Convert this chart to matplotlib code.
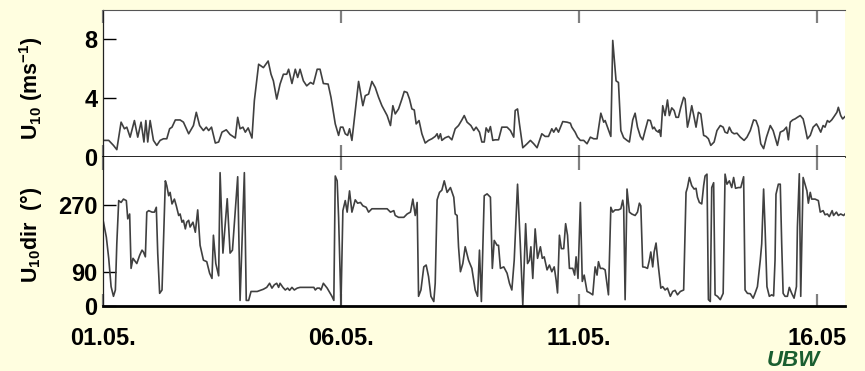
import matplotlib
matplotlib.use("Agg")
import matplotlib.pyplot as plt

# ===================== DATA =====================
# time in days after 01.05. 00:00
speed_day = [
    0.01, 0.12, 0.22, 0.29, 0.38, 0.45, 0.50, 0.57, 0.66, 0.73, 0.80, 0.86, 0.90, 0.94, 0.99,
    1.06, 1.13, 1.20, 1.27, 1.34, 1.40, 1.45, 1.52, 1.62, 1.69, 1.80, 1.90, 1.96,
    2.03, 2.11, 2.17, 2.22, 2.28, 2.36, 2.43, 2.50, 2.59, 2.67, 2.78, 2.83, 2.88, 2.94, 2.99,
    3.05, 3.13, 3.18, 3.27, 3.37, 3.47, 3.53, 3.58, 3.65, 3.72, 3.79, 3.86, 3.90, 3.97,
    4.04, 4.09, 4.14, 4.21, 4.28, 4.36, 4.42, 4.50, 4.56, 4.63, 4.73, 4.79, 4.88, 4.95,
    4.99, 5.04, 5.09, 5.14, 5.18, 5.23, 5.30, 5.37, 5.46, 5.51, 5.58, 5.65, 5.72, 5.79, 5.86, 5.97,
    6.04, 6.09, 6.14, 6.21, 6.28, 6.33, 6.39, 6.44, 6.49, 6.54, 6.58, 6.64, 6.70, 6.77, 6.84, 6.91, 6.98,
    7.02, 7.05, 7.09, 7.12, 7.19, 7.26, 7.33, 7.40, 7.47, 7.54, 7.59, 7.65, 7.73, 7.79, 7.84, 7.91, 7.96,
    8.01, 8.05, 8.10, 8.14, 8.19, 8.24, 8.31, 8.38, 8.49, 8.56, 8.63, 8.66, 8.71, 8.75, 8.82, 8.91, 8.98,
    9.05, 9.12, 9.22, 9.29, 9.36, 9.43, 9.47, 9.52, 9.57, 9.66, 9.75, 9.82, 9.85, 9.92, 9.97,
    10.03, 10.10, 10.17, 10.24, 10.31, 10.38, 10.46, 10.52, 10.55, 10.60, 10.67, 10.71, 10.78, 10.83,
    10.88, 10.94, 11.01, 11.06, 11.13, 11.18, 11.23, 11.29, 11.34, 11.39, 11.45, 11.50, 11.55, 11.58,
    11.62, 11.67, 11.69, 11.72, 11.76, 11.81, 11.86, 11.90, 11.95, 12.00, 12.04, 12.09, 12.14, 12.20,
    12.23, 12.28, 12.32, 12.37, 12.42, 12.46, 12.51, 12.56, 12.62, 12.67, 12.72, 12.77, 12.84, 12.90,
    12.97, 13.03, 13.07, 13.12, 13.16, 13.21, 13.26, 13.32, 13.39, 13.47, 13.53, 13.60, 13.67, 13.72,
    13.77, 13.82, 13.88, 13.94, 14.02, 14.08, 14.12, 14.17, 14.23, 14.30, 14.36, 14.40, 14.44, 14.49,
    14.54, 14.59, 14.65, 14.71, 14.75, 14.80, 14.86, 14.92, 14.99, 15.03, 15.08, 15.13, 15.17, 15.22,
    15.26, 15.31, 15.36, 15.42, 15.45, 15.50, 15.54, 15.59,
]
speed = [
    1.13, 1.13, 0.79, 0.50, 2.37, 1.92, 2.03, 1.35, 2.48, 1.35, 2.37, 1.02, 2.48, 1.02, 2.48,
    1.13, 0.79, 1.13, 1.24, 1.24, 1.92, 2.03, 2.52, 2.52, 2.37, 1.58, 2.14, 3.04,
    2.14, 1.80, 2.03, 1.80, 2.03, 0.95, 1.02, 1.69, 1.85, 1.53, 1.29, 2.70, 1.92, 2.03, 1.69,
    1.98, 1.29, 3.83, 6.31, 6.08, 6.53, 5.63, 5.18, 3.94, 4.96, 5.63, 5.63, 5.97, 5.00,
    5.97, 5.41, 5.97, 5.18, 4.84, 5.07, 4.96, 5.97, 5.97, 5.00, 4.96, 4.06, 2.25, 1.47,
    2.03, 2.03, 1.58, 1.47, 1.92, 1.13, 3.16, 5.14, 3.49, 4.17, 4.28, 5.14, 4.73, 4.06, 3.49, 2.82,
    2.14, 3.49, 2.93, 3.27, 3.94, 4.46, 4.39, 3.94, 3.27, 3.20, 2.25, 2.48, 1.58, 0.95, 1.13, 1.24, 1.40,
    1.58, 1.24, 1.58, 1.13, 1.31, 1.40, 1.17, 1.92, 2.14, 2.52, 2.82, 2.37, 2.14, 1.80, 2.03, 1.69, 1.02,
    1.02, 1.98, 1.69, 2.07, 1.13, 1.17, 1.17, 2.03, 2.03, 1.80, 1.35, 3.16, 3.27, 2.25, 0.63, 0.90, 1.13,
    0.90, 0.63, 1.58, 1.40, 1.40, 1.92, 1.69, 1.98, 1.69, 2.41, 2.37, 2.30, 2.03, 1.69, 1.35,
    1.13, 1.13, 0.90, 1.35, 1.24, 1.24, 2.98, 2.37, 2.48, 2.03, 1.40, 7.93, 5.18, 5.07,
    1.80, 1.31, 1.13, 1.02, 2.52, 2.98, 2.03, 1.40, 1.17, 1.80, 2.52, 2.48, 1.92, 2.03,
    1.80, 1.69, 1.85, 1.40, 3.49, 2.82, 3.88, 2.82, 3.34, 3.16, 2.70, 2.70, 3.38, 4.06,
    3.94, 2.03, 2.59, 3.49, 2.70, 2.03, 3.04, 2.93, 1.47, 1.40, 1.24, 0.79, 1.02, 1.80,
    2.14, 2.03, 1.69, 1.62, 2.03, 1.69, 1.58, 1.62, 1.35, 1.13, 1.35, 1.80, 2.52, 2.48,
    2.03, 0.90, 0.57, 1.35, 2.14, 1.80, 1.35, 0.79, 1.69, 1.80, 2.03, 1.17, 2.37, 2.52,
    2.59, 2.70, 2.82, 2.59, 2.03, 1.24, 1.47, 2.03, 2.25, 2.03, 1.69, 2.14, 2.03, 2.48,
    2.37, 2.52, 2.75, 3.04, 3.38, 2.82, 2.59, 2.75,
]

dir_day = [
    0.01, 0.07, 0.12, 0.17, 0.22, 0.26, 0.29, 0.33, 0.38, 0.43, 0.49, 0.52, 0.56, 0.59, 0.63, 0.68,
    0.71, 0.77, 0.82, 0.85, 0.89, 0.92, 0.96, 1.03, 1.08, 1.12, 1.15, 1.19, 1.24, 1.31, 1.34, 1.38,
    1.41, 1.45, 1.50, 1.54, 1.59, 1.62, 1.66, 1.69, 1.73, 1.76, 1.80, 1.83, 1.89, 1.94, 1.99,
    2.04, 2.11, 2.18, 2.24, 2.29, 2.32, 2.37, 2.43, 2.46, 2.52, 2.61, 2.67, 2.72, 2.83, 2.88, 2.97,
    3.01, 3.06, 3.11, 3.24, 3.37, 3.44, 3.50, 3.55, 3.60, 3.65, 3.69, 3.72, 3.78, 3.83, 3.88, 3.92,
    3.97, 4.02, 4.08, 4.14, 4.28, 4.43, 4.46, 4.50, 4.55, 4.58, 4.63, 4.71, 4.81, 4.85, 4.88, 4.92,
    4.95, 5.00, 5.04, 5.09, 5.13, 5.18, 5.23, 5.30, 5.35, 5.41, 5.46, 5.53, 5.58, 5.65, 5.76, 5.97,
    6.04, 6.11, 6.14, 6.21, 6.32, 6.39, 6.46, 6.51, 6.56, 6.60, 6.63, 6.68, 6.74, 6.79, 6.84, 6.89,
    6.95, 6.98, 7.02, 7.07, 7.12, 7.17, 7.23, 7.30, 7.37, 7.40, 7.44, 7.47, 7.51, 7.56, 7.61, 7.68,
    7.75, 7.82, 7.87, 7.91, 7.95, 8.01, 8.07, 8.14, 8.18, 8.22, 8.28, 8.31, 8.35, 8.42, 8.49, 8.54,
    8.59, 8.64, 8.71, 8.77, 8.82, 8.88, 8.92, 8.96, 8.99, 9.03, 9.08, 9.13, 9.19, 9.23, 9.27, 9.33,
    9.38, 9.43, 9.48, 9.52, 9.55, 9.59, 9.63, 9.68, 9.72, 9.76, 9.80, 9.87, 9.91, 9.94, 9.98,
    10.03, 10.07, 10.11, 10.17, 10.22, 10.29, 10.34, 10.38, 10.41, 10.45, 10.50, 10.55, 10.62,
    10.67, 10.71, 10.76, 10.83, 10.88, 10.92, 10.94, 10.97, 11.01, 11.06, 11.11, 11.18, 11.23,
    11.27, 11.30, 11.34, 11.39, 11.44, 11.48, 11.51, 11.55, 11.58, 11.62, 11.67, 11.72, 11.76,
    11.81, 11.86, 11.92, 11.97, 12.02, 12.07, 12.13, 12.20, 12.25, 12.28, 12.32, 12.37, 12.42,
    12.46, 12.49, 12.53, 12.58, 12.62, 12.65, 12.69, 12.72, 12.76, 12.79, 12.83, 12.86, 12.91,
    12.97, 13.03, 13.07, 13.11, 13.16, 13.21, 13.25, 13.29, 13.35, 13.40, 13.46, 13.49, 13.54,
    13.60, 13.66, 13.70, 13.75, 13.81, 13.84, 13.88, 13.91, 13.95, 14.00, 14.05, 14.09, 14.12,
    14.14, 14.19, 14.23, 14.26, 14.29, 14.33, 14.38, 14.42, 14.47, 14.52, 14.57, 14.59, 14.63,
    14.66, 14.71, 14.75, 14.79, 14.82, 14.86, 14.89, 14.96, 15.03, 15.07, 15.13, 15.17, 15.22,
    15.26, 15.32, 15.35, 15.41, 15.45, 15.50, 15.56, 15.59,
]
direction = [
    225, 185, 128, 52, 26, 43, 167, 283, 278, 287, 283, 234, 247, 101, 128, 119,
    114, 136, 150, 145, 132, 252, 256, 252, 252, 265, 141, 34, 43, 336, 323, 296,
    305, 274, 287, 269, 243, 247, 225, 230, 207, 225, 230, 212, 225, 198, 258,
    163, 123, 119, 88, 74, 190, 114, 81, 358, 142, 288, 142, 150, 347, 15, 358,
    15, 15, 39, 39, 45, 50, 61, 48, 57, 61, 50, 61, 50, 43, 48, 42,
    50, 43, 48, 50, 50, 50, 43, 48, 48, 43, 61, 48, 26, 15, 349, 336,
    238, 3, 256, 283, 252, 309, 252, 285, 276, 278, 269, 265, 252, 261, 261, 261,
    252, 256, 243, 238, 238, 247, 252, 287, 243, 278, 26, 43, 105, 110, 79, 26,
    12, 61, 285, 305, 311, 336, 305, 318, 292, 247, 243, 159, 92, 114, 159, 123,
    101, 43, 26, 150, 12, 296, 301, 292, 101, 176, 163, 163, 101, 105, 88, 61,
    43, 123, 327, 159, 3, 221, 114, 123, 159, 74, 207, 128, 159, 128, 132, 97,
    110, 92, 105, 70, 35, 190, 154, 154, 221, 190, 101, 101, 83, 132, 74,
    278, 66, 83, 39, 36, 30, 105, 83, 119, 101, 101, 97, 30,
    265, 252, 258, 258, 261, 284, 265, 17, 314, 252, 247, 243, 252,
    276, 269, 105, 104, 101, 123, 145, 105, 145, 169, 105, 48, 52,
    43, 48, 26, 39, 42, 30, 39, 43, 305, 318, 345, 323, 314,
    316, 292, 278, 274, 323, 349, 354, 17, 12, 318, 331, 30, 26,
    17, 34, 354, 327, 336, 318, 345, 316, 318, 318, 347, 43, 34,
    33, 21, 34, 52, 123, 167, 314, 212, 52, 26, 30, 27, 123,
    300, 327, 327, 167, 34, 26, 26, 50, 34, 21, 52, 212, 355,
    26, 345, 327, 309, 276, 305, 287, 287, 283, 252, 256, 245, 247,
    240, 256, 243, 252, 243, 247, 243, 247,
]

date_ticks = [0, 5, 10, 15]
date_labels = ["01.05.", "06.05.", "11.05.", "16.05"]
speed_ticks = [0, 4, 8]
dir_ticks = [0, 90, 270]

# ===================== STYLE =====================
BG = "#FFFEE0"
LINE = "#404040"
plt.rcParams["font.family"] = ["Liberation Sans", "DejaVu Sans"]
plt.rcParams["font.weight"] = "bold"
plt.rcParams["mathtext.fontset"] = "custom"
plt.rcParams["mathtext.rm"] = "Liberation Sans:bold"
plt.rcParams["mathtext.bf"] = "Liberation Sans:bold"
plt.rcParams["mathtext.it"] = "Liberation Sans:bold"
plt.rcParams["mathtext.default"] = "rm"

fig = plt.figure(figsize=(8.65, 3.71), dpi=100, facecolor=BG)
W, H = 865, 371
left, right = 103 / W, 845 / W
ax1 = fig.add_axes([left, 1 - 157 / H, right - left, (157 - 10) / H])
ax2 = fig.add_axes([left, 1 - 306 / H, right - left, (306 - 157) / H])

ax1.plot(speed_day, speed, color=LINE, lw=1.2)
ax2.plot(dir_day, direction, color=LINE, lw=1.2)

ax1.set_ylim(0, 10)
ax2.set_ylim(0, 400)
for ax in (ax1, ax2):
    ax.set_xlim(0, 15.59)
    ax.set_facecolor("white")
    ax.spines["right"].set_visible(False)
    ax.spines["left"].set_color("#222222")
    ax.spines["left"].set_linewidth(0.9)
    ax.set_xticks(date_ticks)
    ax.tick_params(axis="x", direction="in", top=True, bottom=True, length=9,
                   width=1.6, color="#808080", labelsize=17, pad=15)
    ax.tick_params(axis="y", direction="in", length=9.5, width=1.0,
                   labelsize=17, pad=4)
ax1.spines["top"].set_color("#555555")
ax1.spines["top"].set_linewidth(0.8)
ax1.spines["bottom"].set_color("black")
ax1.spines["bottom"].set_linewidth(1.2)
ax2.spines["top"].set_visible(False)
ax2.spines["bottom"].set_color("black")
ax2.spines["bottom"].set_linewidth(2.0)

ax1.set_xticklabels([])
ax2.set_xticklabels(date_labels, fontweight="bold")
ax1.set_yticks(speed_ticks)
ax1.set_yticklabels([str(t) for t in speed_ticks], fontweight="bold")
ax2.set_yticks(dir_ticks)
ax2.set_yticklabels([str(t) for t in dir_ticks], fontweight="bold")

# alternating tick shades as in the original
ax1.yaxis.get_major_ticks()[1].tick1line.set_color("#b0b0b0")
ax1.yaxis.get_major_ticks()[2].tick1line.set_color("#111111")
ax2.yaxis.get_major_ticks()[1].tick1line.set_color("#111111")
ax2.yaxis.get_major_ticks()[2].tick1line.set_color("#b0b0b0")

fig.text(31 / W, 1 - 88 / H, r"U$_{10}$ (ms$^{-1}$)", rotation=90,
         ha="center", va="center", fontsize=15.5, fontweight="bold")
fig.text(31 / W, 1 - 235 / H, r"U$_{10}$dir  (°)", rotation=90,
         ha="center", va="center", fontsize=15.5, fontweight="bold")

# logo
fig.text(793 / W, 1 - 361 / H, "UBW", color="#1a5e30", fontsize=16,
         fontweight="heavy", style="italic", ha="center", va="center")

fig.savefig("out.png", dpi=100, facecolor=BG)
